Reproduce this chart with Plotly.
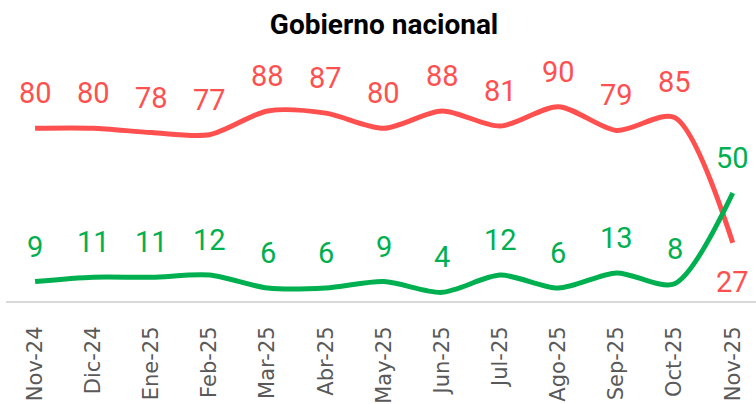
import plotly.graph_objects as go

months = ["Nov-24", "Dic-24", "Ene-25", "Feb-25", "Mar-25", "Abr-25", "May-25",
          "Jun-25", "Jul-25", "Ago-25", "Sep-25", "Oct-25", "Nov-25"]
desaprueba = [80, 80, 78, 77, 88, 87, 80, 88, 81, 90, 79, 85, 27]
aprueba = [9, 11, 11, 12, 6, 6, 9, 4, 12, 6, 13, 8, 50]

RED = "#FF5050"
GREEN = "#00B050"
LABEL_FONT = "Roboto, sans-serif"

fig = go.Figure()
xs = list(range(len(months)))
fig.add_trace(go.Scatter(x=xs, y=desaprueba, mode="lines",
                         line=dict(color=RED, width=5, shape="spline", smoothing=0.8),
                         hoverinfo="skip", showlegend=False, cliponaxis=False))
fig.add_trace(go.Scatter(x=xs, y=aprueba, mode="lines",
                         line=dict(color=GREEN, width=5, shape="spline", smoothing=0.8),
                         hoverinfo="skip", showlegend=False, cliponaxis=False))

annotations = []
for i, (r, g) in enumerate(zip(desaprueba, aprueba)):
    r_above = r >= g
    annotations.append(dict(x=i, y=r, xref="x", yref="y", text=str(r), showarrow=False,
                            yshift=35 if r_above else -39, yanchor="middle",
                            font=dict(family=LABEL_FONT, size=29, color=RED)))
    annotations.append(dict(x=i, y=g, xref="x", yref="y", text=str(g), showarrow=False,
                            yshift=35, yanchor="middle",
                            font=dict(family=LABEL_FONT, size=29, color=GREEN)))

fig.update_layout(
    width=756, height=404,
    margin=dict(l=6, r=0, t=60, b=103, autoexpand=False),
    paper_bgcolor="white", plot_bgcolor="white",
    title=dict(text="<b>Gobierno nacional</b>", x=0.508, xanchor="center",
               y=0.94, yanchor="middle", yref="container",
               font=dict(family="Roboto, sans-serif", size=28, color="black")),
    xaxis=dict(range=[-0.5, 12.4], tickmode="array", tickvals=xs, ticktext=months,
               tickangle=-90, showgrid=False, zeroline=False, showline=True,
               automargin=False,
               linecolor="#D9D9D9", linewidth=2, ticks="", ticklabelstandoff=15,
               tickfont=dict(family="DejaVu Sans, sans-serif", size=21, color="#595959")),
    yaxis=dict(range=[0, 111.6], visible=False, showgrid=False, zeroline=False,
               automargin=False),
    annotations=annotations,
)

fig.write_html("out.html", post_script="document.body.style.margin='0';",
               config={"displayModeBar": False})
